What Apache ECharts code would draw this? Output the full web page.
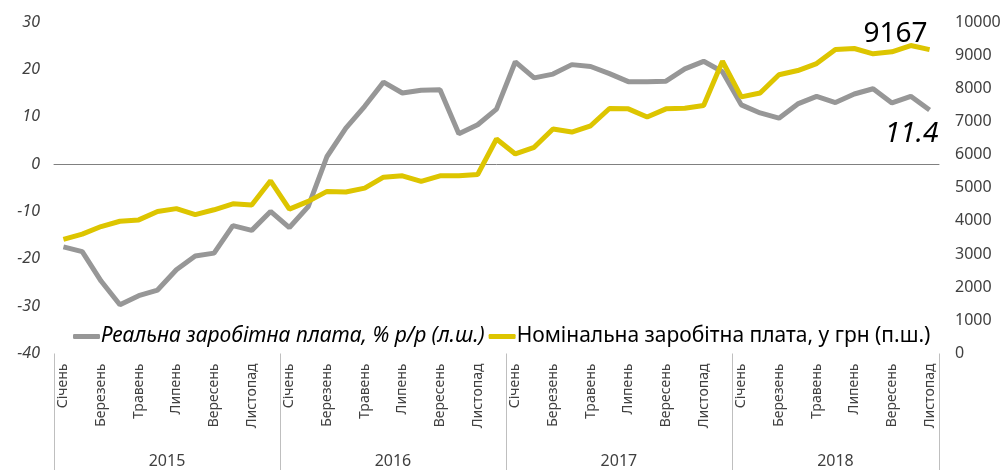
<!DOCTYPE html>
<html>
<head>
<meta charset="utf-8">
<script src="https://cdn.jsdelivr.net/npm/echarts@6/dist/echarts.min.js"></script>
<style>
html,body{margin:0;padding:0;background:#fff;}
#chart{width:1004px;height:470px;}
</style>
</head>
<body>
<div id="chart"></div>
<script>
var monthNames = ['Січень','Лютий','Березень','Квітень','Травень','Червень','Липень','Серпень','Вересень','Жовтень','Листопад','Грудень'];
var years = ['2015','2016','2017','2018'];
var monthsPerYear = [12, 12, 12, 11];

var realWage = [-17.5,-18.5,-24.7,-29.7,-27.8,-26.6,-22.3,-19.4,-18.8,-13.0,-14.0,-10.0,
  -13.4,-9.0,1.6,7.6,12.2,17.3,15.0,15.6,15.7,6.4,8.3,11.6,
  21.6,18.2,19.0,21.0,20.6,19.1,17.4,17.4,17.5,20.1,21.7,19.5,
  12.5,10.8,9.7,12.7,14.3,13.0,14.8,15.9,12.9,14.3,11.4];

var nominalWage = [3440,3600,3830,3990,4030,4285,4370,4190,4335,4515,4480,5210,
  4355,4590,4890,4870,4990,5320,5360,5190,5360,5360,5400,6470,
  6020,6220,6770,6680,6870,7390,7380,7135,7380,7400,7480,8815,
  7740,7860,8410,8535,8745,9170,9200,9040,9100,9290,9167];

var leftName = 'Реальна заробітна плата, % р/р (л.ш.)';
var rightName = 'Номінальна заробітна плата, у грн (п.ш.)';

var categories = [];
years.forEach(function (y, yi) {
  for (var m = 0; m < monthsPerYear[yi]; m++) categories.push(monthNames[m] + ' ' + y);
});

// year boundaries and centres in category-index units
var yearBounds = [-0.5], yearCenters = [], acc = -0.5;
monthsPerYear.forEach(function (n) {
  yearCenters.push(acc + n / 2);
  acc += n;
  yearBounds.push(acc);
});

var last = realWage.length - 1;
var FONT = 'Noto Sans';
var GRAY = '#979797';
var YELLOW = '#DDC500';
var TXT = '#404040';

var realData = realWage.map(function (v, i) {
  if (i !== last) return v;
  return {value: v, label: {show: true, position: 'bottom', offset: [-18, 5],
    formatter: '{c}', fontFamily: FONT, fontStyle: 'italic', fontSize: 28, letterSpacing: -1, color: '#000'}};
});
var nomData = nominalWage.map(function (v, i) {
  if (i !== last) return v;
  return {value: v, label: {show: true, position: 'top', offset: [-34, 3],
    formatter: '{c}', fontFamily: FONT, fontSize: 28, letterSpacing: -0.5, color: '#000'}};
});

var chart = echarts.init(document.getElementById('chart'), null, {renderer: 'canvas'});
chart.setOption({
  animation: false,
  backgroundColor: '#fff',
  textStyle: {fontFamily: FONT},
  grid: {left: 54, right: 65, top: 22, bottom: 116.5, containLabel: false},
  legend: {
    left: 68, top: 321, itemGap: 4, itemWidth: 27, itemHeight: 5, icon: 'roundRect',
    textStyle: {fontFamily: FONT, fontSize: 21, color: '#000', padding: [0, 0, 0, -4]},
    data: [
      {name: leftName, textStyle: {fontStyle: 'italic'}},
      {name: rightName}
    ]
  },
  xAxis: [
    {
      type: 'category', data: categories, position: 'bottom',
      axisLine: {show: false}, axisTick: {show: false},
      axisLabel: {interval: 1, rotate: 90, margin: 10, fontSize: 14, color: TXT, fontFamily: FONT,
        formatter: function (v) { return v.split(' ')[0]; }}
    },
    {
      type: 'value', min: -0.5, max: 46.5, position: 'bottom',
      axisLine: {show: false}, splitLine: {show: false},
      axisTick: {show: true, customValues: yearBounds, length: 120, lineStyle: {color: '#BFBFBF', width: 1}},
      axisLabel: {show: true, customValues: yearCenters, margin: 100, fontSize: 16, color: TXT, fontFamily: FONT,
        formatter: function (v) { return years[Math.min(years.length - 1, Math.floor((v + 0.5) / 12))]; }}
    },
    {
      type: 'category', data: categories, position: 'bottom',
      axisLine: {show: true, onZero: true, onZeroAxisIndex: 0, lineStyle: {color: '#808080', width: 1}},
      axisTick: {show: false}, axisLabel: {show: false}
    }
  ],
  yAxis: [
    {
      type: 'value', min: -40, max: 30, interval: 10, position: 'left',
      axisLine: {show: false}, axisTick: {show: false}, splitLine: {show: false},
      axisLabel: {margin: 14, fontSize: 16, fontStyle: 'italic', color: TXT, fontFamily: FONT}
    },
    {
      type: 'value', min: 0, max: 10000, interval: 1000, position: 'right',
      axisLine: {show: false}, axisTick: {show: false}, splitLine: {show: false},
      axisLabel: {margin: 16, fontSize: 16, color: TXT, fontFamily: FONT,
        formatter: function (v) { return String(v); }}
    }
  ],
  series: [
    {
      name: leftName, type: 'line', xAxisIndex: 0, yAxisIndex: 0, data: realData,
      symbol: 'circle', symbolSize: 0, showSymbol: true,
      lineStyle: {color: GRAY, width: 5}, itemStyle: {color: GRAY}
    },
    {
      name: rightName, type: 'line', xAxisIndex: 0, yAxisIndex: 1, data: nomData,
      symbol: 'circle', symbolSize: 0, showSymbol: true,
      lineStyle: {color: YELLOW, width: 5}, itemStyle: {color: YELLOW}
    }
  ]
});
</script>
</body>
</html>
